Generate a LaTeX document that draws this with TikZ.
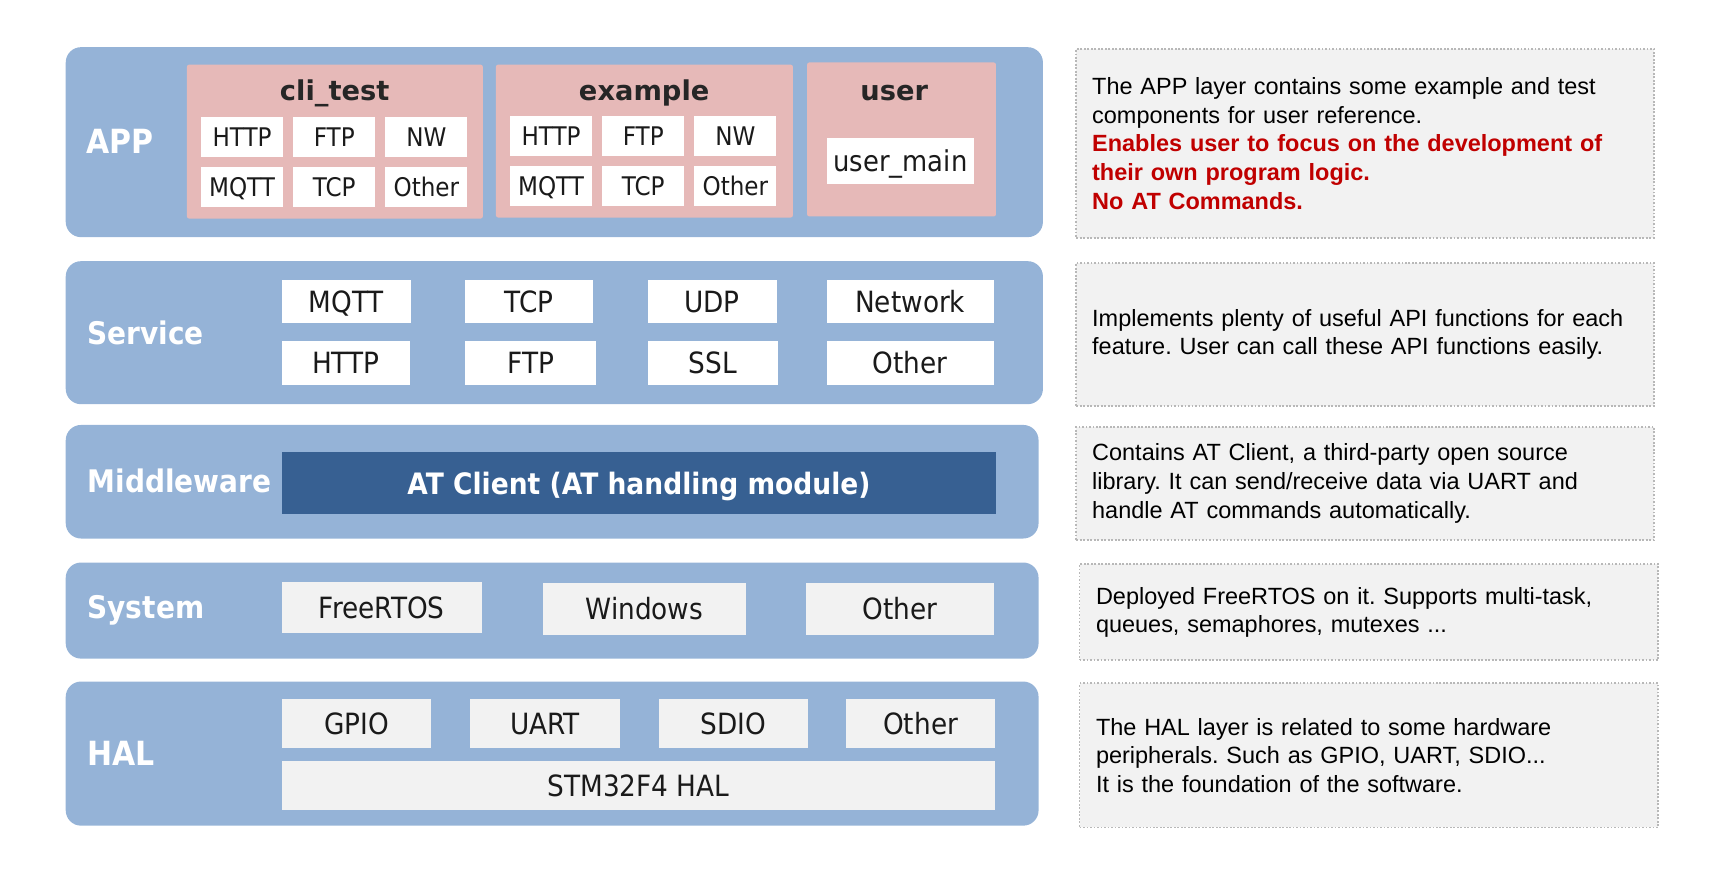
\documentclass[tikz,border=0pt]{standalone}
\usepackage{fontspec}
\setmainfont{Liberation Sans}
\newfontfamily\verdana{DejaVu Sans}
\newfontfamily\tahoma[FakeStretch=0.9]{DejaVu Sans}
\usetikzlibrary{positioning}
\frenchspacing

\definecolor{layerblue}{HTML}{95B3D7}
\definecolor{grouppink}{HTML}{E6B9B8}
\definecolor{hwgray}{HTML}{F2F2F2}
\definecolor{atblue}{HTML}{376092}
\definecolor{notegray}{HTML}{F2F2F2}
\definecolor{dotgray}{HTML}{B8B8B8}
\definecolor{notered}{HTML}{C00000}
\definecolor{titledark}{HTML}{262626}
\definecolor{itemtext}{HTML}{1A1A1A}

\begin{document}
\begin{tikzpicture}[x=1pt,y=-1pt,
    layer/.style={fill=layerblue,rounded corners=14pt,anchor=north west,inner sep=0pt},
    layername/.style={anchor=west,inner sep=0pt,text=white,text height=20.8pt,text depth=0pt,
      font=\tahoma\bfseries\fontsize{28.5}{30}\selectfont},
    group/.style={fill=grouppink,rounded corners=2pt,anchor=north west,inner sep=0pt},
    grouptitle/.style={anchor=base,inner sep=0pt,text=titledark,
      font=\verdana\bfseries\fontsize{25}{28}\selectfont},
    appitem/.style={fill=white,anchor=north west,inner sep=0pt,minimum width=75pt,
      minimum height=37pt,text=itemtext,text height=17pt,text depth=0pt,
      font=\tahoma\fontsize{23.5}{26}\selectfont},
    svcitem/.style={fill=white,anchor=north west,inner sep=0pt,minimum height=40pt,
      text=itemtext,text height=19.5pt,text depth=0pt,
      font=\tahoma\fontsize{26.8}{30}\selectfont},
    hwitem/.style={svcitem,fill=hwgray},
    atbox/.style={fill=atblue,anchor=north west,inner sep=0pt,text=white,
      text height=19.7pt,text depth=0pt,font=\tahoma\bfseries\fontsize{27}{30}\selectfont},
    notebox/.style={fill=notegray,draw=dotgray,line width=1.6pt,dash pattern=on 1.6pt off 1.6pt,
      anchor=north west,minimum width=529pt,text width=500pt,inner xsep=14.5pt,align=left,
      font=\fontsize{21.5}{26.3}\selectfont}]

  \useasboundingbox (0,0) rectangle (1568,801);

  % layers
  \node[layer,minimum width=895pt,minimum height=174pt] (app) at (60,43) {};
  \node[layer,minimum width=895pt,minimum height=131pt] (service) at (60,239) {};
  \node[layer,minimum width=891pt,minimum height=104pt] (middleware) at (60,389) {};
  \node[layer,minimum width=891pt,minimum height=88pt] (system) at (60,515) {};
  \node[layer,minimum width=891pt,minimum height=132pt] (hal) at (60,624) {};

  \node[layername,text height=22pt,font=\tahoma\bfseries\fontsize{30.5}{32}\selectfont] (appName) at (79,130) {APP};
  \node[layername] (serviceName) at (80,305) {Service};
  \node[layername] (middlewareName) at (80,441) {Middleware};
  \node[layername] (systemName) at (80,556) {System};
  \node[layername,text height=22pt,font=\tahoma\bfseries\fontsize{30.5}{32}\selectfont] (halName) at (80,690) {HAL};

  % APP layer
  \node[group,minimum width=271pt,minimum height=141pt] (clitest) at (171,59) {};
  \node[group,minimum width=272pt,minimum height=140pt] (example) at (454,59) {};
  \node[group,minimum width=173pt,minimum height=141pt] (user) at (739,57) {};

  \node[grouptitle] (clitestTitle) at (306.5,92) {cli\_test};
  \node[grouptitle] (exampleTitle) at (590,92) {example};
  \node[grouptitle] (userTitle) at (819,92) {user};

  \node[appitem] (cliHTTP) at (184,107) {HTTP};
  \node[appitem,right=9pt of cliHTTP] (cliFTP) {FTP};
  \node[appitem,right=9pt of cliFTP] (cliNW) {NW};
  \node[appitem,below=8pt of cliHTTP] (cliMQTT) {MQTT};
  \node[appitem,below=8pt of cliFTP] (cliTCP) {TCP};
  \node[appitem,below=8pt of cliNW] (cliOther) {Other};

  \node[appitem] (exHTTP) at (467,106) {HTTP};
  \node[appitem,right=9pt of exHTTP] (exFTP) {FTP};
  \node[appitem,right=9pt of exFTP] (exNW) {NW};
  \node[appitem,below=8pt of exHTTP] (exMQTT) {MQTT};
  \node[appitem,below=8pt of exFTP] (exTCP) {TCP};
  \node[appitem,below=8pt of exNW] (exOther) {Other};

  \node[appitem,minimum width=135pt,minimum height=42pt,text height=19pt,
        font=\tahoma\fontsize{26.3}{30}\selectfont] (usermain) at (757,126) {user\_main};

  % Service layer
  \node[svcitem,minimum width=118pt] (svcMQTT) at (258,256) {MQTT};
  \node[svcitem,minimum width=117pt] (svcTCP) at (426,256) {TCP};
  \node[svcitem,minimum width=118pt] (svcUDP) at (593,256) {UDP};
  \node[svcitem,minimum width=153pt] (svcNetwork) at (757,256) {Network};
  \node[svcitem,minimum width=117pt] (svcHTTP) at (258,312) {HTTP};
  \node[svcitem,minimum width=120pt] (svcFTP) at (426,312) {FTP};
  \node[svcitem,minimum width=119pt] (svcSSL) at (593,312) {SSL};
  \node[svcitem,minimum width=153pt] (svcOther) at (757,312) {Other};

  % Middleware layer
  \node[atbox,minimum width=654pt,minimum height=57pt] (atclient) at (258,414) {AT Client (AT handling module)};

  % System layer
  \node[hwitem,minimum width=183pt,minimum height=47pt] (sysFreeRTOS) at (258,533) {FreeRTOS};
  \node[hwitem,minimum width=186pt,minimum height=47pt] (sysWindows) at (497,534) {Windows};
  \node[hwitem,minimum width=172pt,minimum height=47pt] (sysOther) at (738,534) {Other};

  % HAL layer
  \node[hwitem,minimum width=137pt,minimum height=45pt] (halGPIO) at (258,640) {GPIO};
  \node[hwitem,minimum width=138pt,minimum height=45pt] (halUART) at (430,640) {UART};
  \node[hwitem,minimum width=137pt,minimum height=45pt] (halSDIO) at (603,640) {SDIO};
  \node[hwitem,minimum width=136pt,minimum height=45pt] (halOther) at (775,640) {Other};
  \node[hwitem,minimum width=653pt,minimum height=45pt] (halSTM) at (258,697) {STM32F4 HAL};

  % notes
  \node[notebox,minimum height=173pt] (appNote) at (985,44)
    {The APP layer contains some example and test\\
     components for user reference.\\
     {\color{notered}\bfseries Enables user to focus on the development of\\
     their own program logic.\\
     No AT Commands.}};
  \node[notebox,minimum height=131pt] (serviceNote) at (985,240)
    {Implements plenty of useful API functions for each\\
     feature. User can call these API functions easily.};
  \node[notebox,minimum height=104pt] (middlewareNote) at (985,390)
    {Contains AT Client, a third-party open source\\
     library. It can send/receive data via UART and\\
     handle AT commands automatically.};
  \node[notebox,minimum width=530pt,minimum height=88pt] (systemNote) at (988,516)
    {Deployed FreeRTOS on it. Supports multi-task,\\
     queues, semaphores, mutexes ...};
  \node[notebox,minimum width=530pt,minimum height=132pt] (halNote) at (988,625)
    {The HAL layer is related to some hardware\\
     peripherals. Such as GPIO, UART, SDIO...\\
     It is the foundation of the software.};

\end{tikzpicture}
\end{document}
